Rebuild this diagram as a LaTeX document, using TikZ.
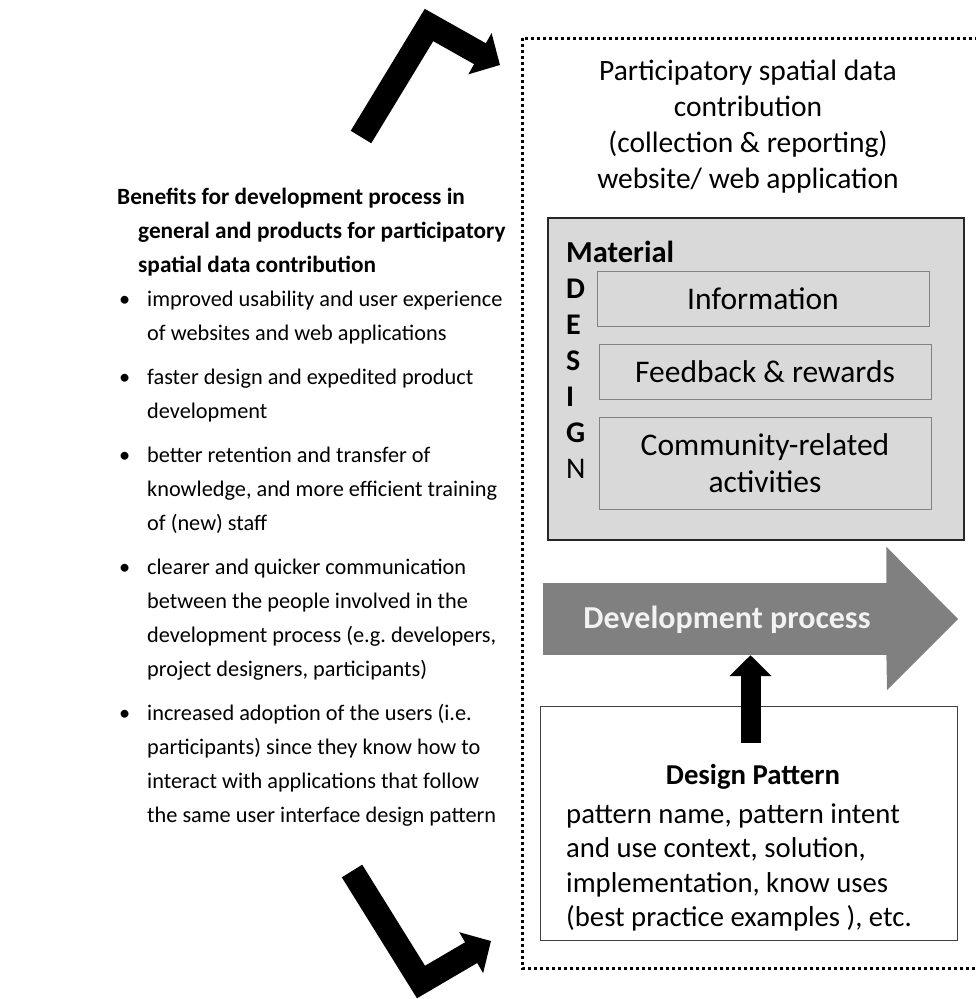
\documentclass[tikz,border=0pt]{standalone}
\usepackage{fontspec}
\setmainfont{Carlito}
\usetikzlibrary{arrows.meta, positioning}
\definecolor{panelgray}{RGB}{217,217,217}
\definecolor{boxedge}{RGB}{130,130,130}
\definecolor{processgray}{RGB}{128,128,128}
\definecolor{labelwhite}{RGB}{242,242,242}
\newcommand{\benefititem}[1][10pt]{\par\vspace{#1}\noindent\hangindent=30pt\hangafter=1\makebox[30pt][l]{\hspace{2pt}•}\ignorespaces}
\newcommand{\tightspace}{\spaceskip=0.226em\xspaceskip=0.226em\relax}
\frenchspacing

\begin{document}
\begin{tikzpicture}[x=1pt, y=-1pt,
  bentarrow/.style={line width=24pt, line join=miter, -{Triangle[length=23pt, width=46pt]}},
  liftarrow/.style={line width=20pt, -{Triangle[length=21pt, width=41pt]}},
  framedots/.style={line width=3pt, dash pattern=on 3pt off 3pt},
  materialitem/.style={draw=boxedge, fill=panelgray, line width=1pt, minimum width=332pt,
    inner sep=0pt, align=center, font=\fontsize{31.5}{37}\selectfont\tightspace},
  designletter/.style={anchor=west, inner sep=0pt, font=\fontsize{30}{36}\selectfont\bfseries}]

  \useasboundingbox (0,0) rectangle (976,999);
  \clip (0,0) rectangle (976,999);

  % bent arrows
  \coordinate (upperstart) at (361,137);
  \coordinate (upperbend) at (429,25);
  \coordinate (uppertip) at (500,65);
  \draw[bentarrow] (upperstart) -- (upperbend) -- (uppertip);
  \coordinate (lowerstart) at (352,871);
  \coordinate (lowerbend) at (421,982);
  \coordinate (lowertip) at (491,941);
  \draw[bentarrow] (lowerstart) -- (lowerbend) -- (lowertip);

  % benefits list
  \node[anchor=north west, inner sep=0pt, text width=410pt, align=left,
    font=\fontsize{22.3}{34}\selectfont] (benefits) at (117,180) {%
    {\bfseries\fontsize{23.3}{34}\selectfont\tightspace\noindent\hangindent=21pt\hangafter=1\strut Benefits for development process in\newline
      general and products for participatory\newline spatial data contribution\par}\tightspace
    \benefititem[0pt] improved usability and user experience\newline of websites and web applications
    \benefititem faster design and expedited product\newline development
    \benefititem better retention and transfer of\newline knowledge, and more efficient training\newline of (new) staff
    \benefititem clearer and quicker communication\newline between the people involved in the\newline
      development process (e.g. developers,\newline project designers, participants)
    \benefititem increased adoption of the users (i.e.\newline participants) since they know how to\newline
      interact with applications that follow\newline the same user interface design pattern\par};

  % dotted frame
  \draw[framedots] (522,38) rectangle (990,968);

  % platform title
  \node[anchor=north, inner sep=0pt, text width=420pt, align=center,
    font=\fontsize{29.5}{36}\selectfont] (platform) at (748,54.8)
    {\tightspace\strut Participatory spatial data\\ contribution\\ (collection \& reporting)\\ website/ web application};

  % material panel
  \node[draw=black!85, fill=panelgray, line width=1.6pt, minimum width=416pt, minimum height=322pt,
    anchor=north west, inner sep=0pt] (material) at (547,217) {};
  \node[anchor=west, inner sep=0pt, font=\fontsize{30.5}{36}\selectfont\bfseries] (materiallabel) at (566,252) {Material};
  \foreach \ch [count=\i from 0] in {D,E,S,I,G}
    \node[designletter] (design\i) at (566,289+36*\i) {\ch};
  \node[designletter, font=\fontsize{30}{36}\selectfont] (design5) at (566,469) {N};
  \node[materialitem, minimum height=55pt] (information) at (763,298.5) {Information};
  \node[materialitem, minimum height=55pt] (feedback) at (765,371.5) {Feedback \& rewards};
  \node[materialitem, minimum height=92pt] (community) at (765,463) {Community-related\\ activities};

  % development process arrow
  \node[fill=processgray, minimum width=344pt, minimum height=72pt, inner sep=0pt, anchor=west] (devbody) at (543,619) {};
  \fill[processgray] ([xshift=-1pt]devbody.north east) -- ++(0,-36) -- (958,619) coordinate (devtip)
    -- ++(-71,71) -- ([xshift=-1pt]devbody.south east) -- cycle;
  \node[anchor=base, inner sep=0pt, text=labelwhite, font=\fontsize{32}{36}\selectfont\bfseries\tightspace] (devlabel) at (727,628) {Development process};

  % design pattern box
  \node[draw=black!75, fill=white, line width=1.2pt, minimum width=417pt, minimum height=234pt,
    anchor=north west, inner sep=0pt] (pattern) at (540,706) {};
  \node[anchor=base, inner sep=0pt, font=\fontsize{28.8}{34}\selectfont\bfseries\tightspace] (patterntitle) at (753,784) {Design Pattern};
  \node[anchor=north west, inner sep=0pt, text width=390pt, align=left,
    font=\fontsize{28.7}{34.5}\selectfont] (patternbody) at (566,799)
    {\tightspace\strut pattern name, pattern intent\\ and use context, solution,\\ implementation, know uses\\ (best practice examples ), etc.};

  % pattern feeds the process
  \coordinate (hook) at (750.5,743);
  \draw[liftarrow] (hook) -- (hook |- devbody.south);

\end{tikzpicture}
\end{document}
